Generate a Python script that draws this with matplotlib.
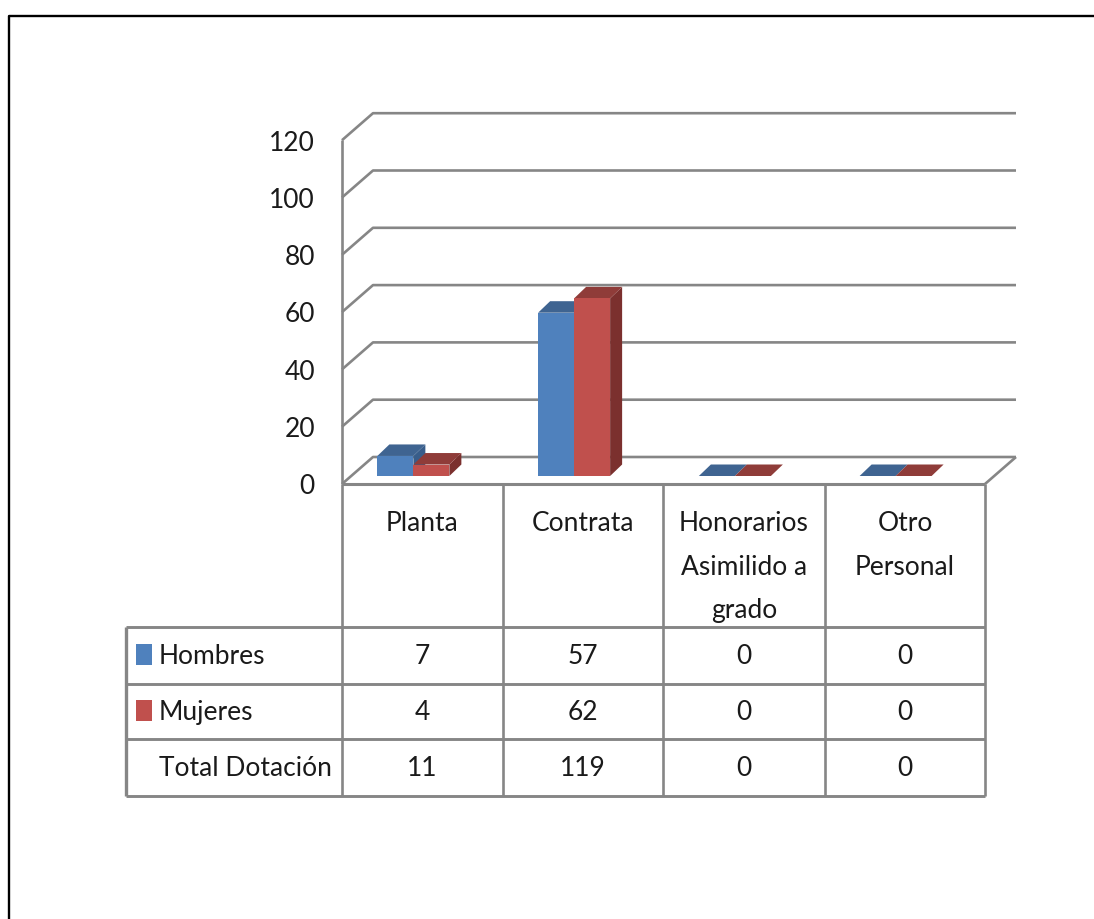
import matplotlib
matplotlib.use('Agg')
import matplotlib.pyplot as plt
from matplotlib.patches import Polygon, Rectangle

plt.rcParams['font.family'] = ['Lato', 'DejaVu Sans']

categorias = ['Planta', 'Contrata', 'Honorarios\nAsimilido a\ngrado', 'Otro\nPersonal']
hombres = [7, 57, 0, 0]
mujeres = [4, 62, 0, 0]
total = [11, 119, 0, 0]
yticks = [0, 20, 40, 60, 80, 100, 120]
filas = ['Hombres', 'Mujeres', 'Total Dotación']

AZUL = '#4f81bd'
AZUL_TOP = '#3f6491'
AZUL_SIDE = '#385d8a'
ROJO = '#c0504d'
ROJO_TOP = '#8f3c39'
ROJO_SIDE = '#7b302e'
GRIS = '#868686'
TEXTO = '#1a1a1a'
FS = 19
W, H = 1094, 919

fig = plt.figure(figsize=(W / 100, H / 100), dpi=100)

# pixel layer for the frame and the table
bg = fig.add_axes([0, 0, 1, 1])
bg.set_xlim(0, W)
bg.set_ylim(H, 0)
bg.axis('off')

# front plane of the 3d chart, x in categories and y in chart values
px_unit = 2.865
top_px = 484 - 120 * px_unit
ax = fig.add_axes([342 / W, 1 - 484 / H, (985 - 342) / W, (484 - top_px) / H])
ax.set_xlim(0, 4)
ax.set_ylim(0, 120)
ax.axis('off')

# depth of the floor and of the bars, in axes data units
dx = 31 / (643 / 4)
dy = 27 / px_unit
bar_dx = 12 / (643 / 4)
bar_dy = 11.5 / px_unit
base_dy = 8 / px_unit
bar_w = 36 / (643 / 4)


def line(xs, ys, lw=1.9):
    ax.plot(xs, ys, color=GRIS, lw=lw, clip_on=False, solid_capstyle='butt', zorder=1)


# back wall, side wall and floor
for v in yticks:
    line([0, dx, 4 + dx], [v, v + dy, v + dy])
line([0, 0], [0, 120])
line([4, 4 + dx], [0, dy])
line([0, 4], [0, 0], lw=2.2)


def bar3d(x, v, front, top, side):
    y0 = base_dy
    y1 = base_dy + v
    ax.add_patch(Polygon([(x + bar_w, y0), (x + bar_w + bar_dx, y0 + bar_dy),
                          (x + bar_w + bar_dx, y1 + bar_dy), (x + bar_w, y1)],
                         color=side, lw=0, clip_on=False, zorder=3))
    ax.add_patch(Polygon([(x, y1), (x + bar_dx, y1 + bar_dy),
                          (x + bar_w + bar_dx, y1 + bar_dy), (x + bar_w, y1)],
                         color=top, lw=0, clip_on=False, zorder=3))
    if v > 0:
        ax.add_patch(Rectangle((x, y0), bar_w, v, color=front, lw=0, clip_on=False, zorder=3))


for i in range(len(categorias)):
    c = i + 0.5 - 0.056
    bar3d(c - bar_w, hombres[i], AZUL, AZUL_TOP, AZUL_SIDE)
    bar3d(c, mujeres[i], ROJO, ROJO_TOP, ROJO_SIDE)

for v in yticks:
    ax.text(-0.168, v - 1, str(v), ha='right', va='center', fontsize=FS, color=TEXTO, clip_on=False)

# table
col_x = [342, 503, 663, 825, 985]
row_y = [484, 627, 684, 739, 796]
left = 126


def tline(xs, ys, lw=1.9):
    bg.plot(xs, ys, color=GRIS, lw=lw, solid_capstyle='butt')


for x in col_x:
    tline([x, x], [row_y[0], row_y[-1]])
tline([left, left], [row_y[1], row_y[-1]], lw=2.4)
for y in row_y[1:]:
    tline([left, col_x[-1]], [y, y], lw=2.1)

for i, cat in enumerate(categorias):
    cx = (col_x[i] + col_x[i + 1]) / 2
    bg.text(cx, 511, cat, ha='center', va='top', fontsize=FS, color=TEXTO, linespacing=1.93)

valores = [hombres, mujeres, total]
colores = [AZUL, ROJO, None]
for r, nombre in enumerate(filas):
    cy = (row_y[r + 1] + row_y[r + 2]) / 2
    bg.text(159, cy + 1, nombre, ha='left', va='center', fontsize=FS, color=TEXTO)
    if colores[r]:
        bg.add_patch(Rectangle((136, cy - 12), 16, 21, color=colores[r], lw=0))
    for i in range(4):
        cx = (col_x[i] + col_x[i + 1]) / 2
        bg.text(cx, cy + 1, str(valores[r][i]), ha='center', va='center', fontsize=FS, color=TEXTO)

# outer frame
bg.plot([9, 9, W], [H, 16, 16], color='black', lw=1.7, solid_capstyle='butt')

fig.savefig('out.png', dpi=100)
